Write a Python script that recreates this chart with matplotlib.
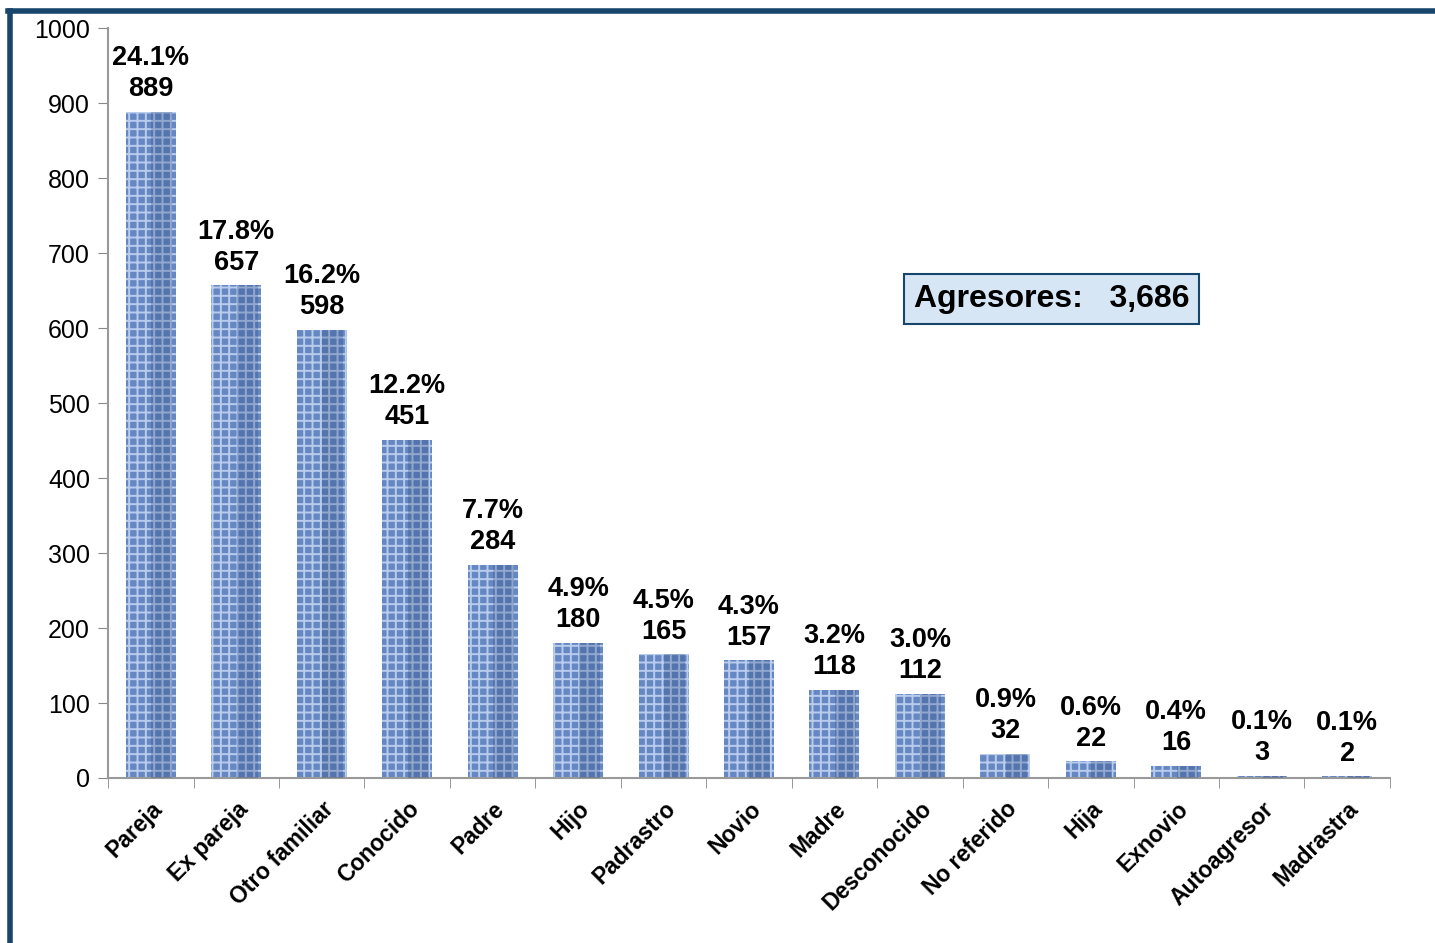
import numpy as np
import matplotlib.pyplot as plt

plt.rcParams['font.family'] = ['Liberation Sans', 'DejaVu Sans']
plt.rcParams['hatch.linewidth'] = 1.4

categorias = ['Pareja', 'Ex pareja', 'Otro familiar', 'Conocido', 'Padre', 'Hijo',
              'Padrastro', 'Novio', 'Madre', 'Desconocido', 'No referido', 'Hija',
              'Exnovio', 'Autoagresor', 'Madrastra']
valores = [889, 657, 598, 451, 284, 180, 165, 157, 118, 112, 32, 22, 16, 3, 2]
porcentajes = ['24.1%', '17.8%', '16.2%', '12.2%', '7.7%', '4.9%', '4.5%', '4.3%',
               '3.2%', '3.0%', '0.9%', '0.6%', '0.4%', '0.1%', '0.1%']
total = 3686

fig = plt.figure(figsize=(14.35, 9.43), dpi=100)
ax = fig.add_axes([0.0753, 0.175, 0.8933, 0.795])

x = np.arange(len(categorias))
w = 0.585
# base bar with a woven texture
ax.bar(x, valores, width=w, color='#6587C2', edgecolor='#B9CCEE', hatch='++',
       linewidth=0, zorder=2)
# darker right side for the 3D look
ax.bar(x + w * 0.22, valores, width=w * 0.42, color='#1F3C70', alpha=0.25,
       linewidth=0, zorder=3)

for xi, v, p in zip(x, valores, porcentajes):
    ax.annotate(p + '\n' + str(v), (xi, v), xytext=(0, 7), textcoords='offset points',
                ha='center', va='bottom', fontsize=19.5, fontweight='bold',
                linespacing=1.25, zorder=5)

ax.set_xlim(-0.5, len(categorias) - 0.5)
ax.set_ylim(0, 1000)
ax.set_yticks(range(0, 1001, 100))
ax.tick_params(axis='y', labelsize=18, color='#888888', length=7, direction='out', pad=6)
ax.set_xticks(x)
ax.set_xticklabels(categorias, rotation=45, ha='right', rotation_mode='anchor',
                   fontsize=16.5, fontweight='bold')
ax.tick_params(axis='x', length=0, pad=14)
ax.set_xticks(np.arange(len(categorias) + 1) - 0.5, minor=True)
ax.tick_params(axis='x', which='minor', length=7, color='#888888')

for s in ['top', 'right']:
    ax.spines[s].set_visible(False)
for s in ['left', 'bottom']:
    ax.spines[s].set_color('#999999')
    ax.spines[s].set_linewidth(1.5)

ax.text(0.736, 0.639, 'Agresores:   {:,}'.format(total), transform=ax.transAxes,
        ha='center', va='center', fontsize=23, fontweight='bold',
        bbox=dict(boxstyle='square,pad=0.3', fc='#D6E6F4', ec='#17456B', lw=1.5))

# dark frame on left and top
fig.add_artist(plt.Line2D([0.0073, 0.0073], [0, 0.9883], color='#17456B', lw=4,
                          transform=fig.transFigure))
fig.add_artist(plt.Line2D([0.0059, 1.0], [0.9883, 0.9883], color='#17456B', lw=4,
                          transform=fig.transFigure))

fig.savefig('out.png', dpi=100)
